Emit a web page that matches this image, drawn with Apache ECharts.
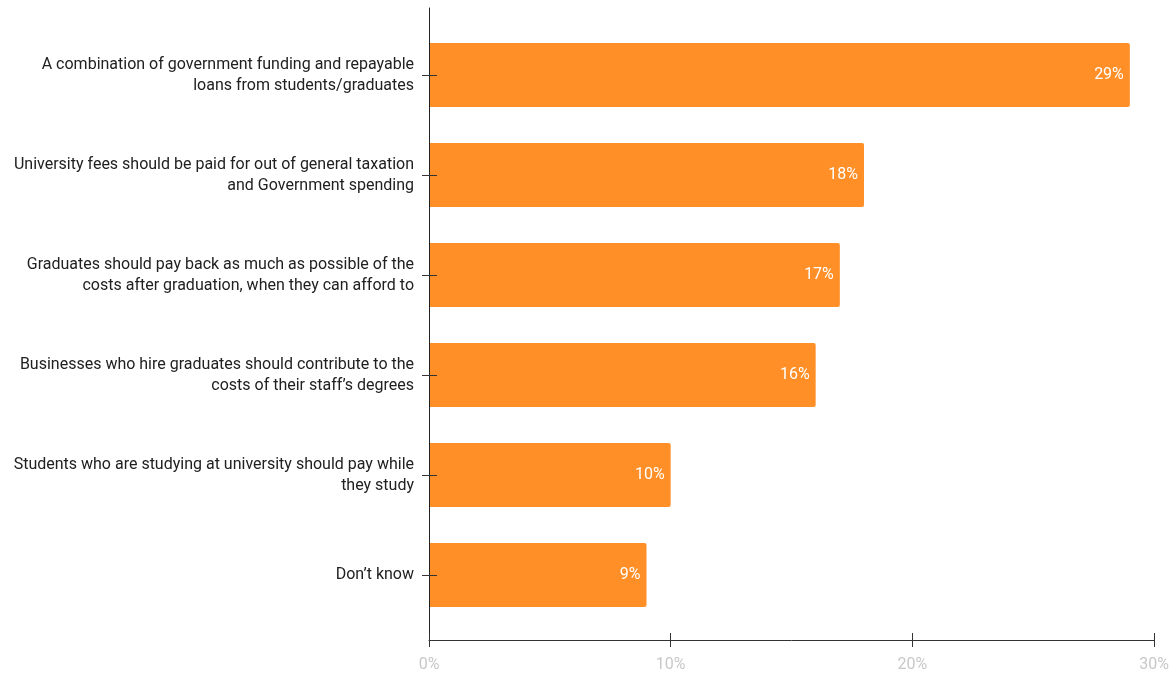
<!DOCTYPE html>
<html>
<head>
<meta charset="utf-8">
<script src="https://cdn.jsdelivr.net/npm/echarts@6/dist/echarts.min.js"></script>
<style>
html, body { margin: 0; padding: 0; background: #fff; }
#chart { width: 1176px; height: 673px; }
</style>
</head>
<body>
<div id="chart"></div>
<script>
// 类别（从上到下）
var categories = [
    'A combination of government funding and repayable\nloans from students/graduates',
    'University fees should be paid for out of general taxation\nand Government spending',
    'Graduates should pay back as much as possible of the\ncosts after graduation, when they can afford to',
    'Businesses who hire graduates should contribute to the\ncosts of their staff\u2019s degrees',
    'Students who are studying at university should pay while\nthey study',
    'Don\u2019t know'
];
var values = [29, 18, 17, 16, 10, 9];

var chart = echarts.init(document.getElementById('chart'));

// 网格尺寸
var gridW = 1176 - 429 - 22;
var gridH0 = 673 - 8 - 33;

var option = {
    animation: false,
    textStyle: { fontFamily: 'Roboto' },
    grid: [
        // 外框：坐标轴线
        { left: 429, right: 22, top: 8, bottom: 33 },
        // 柱子
        { left: 429, right: 22, top: 25, bottom: 48 }
    ],
    xAxis: [
        {
            gridIndex: 0, type: 'value', min: 0, max: 30, interval: 10, position: 'bottom', z: 10,
            axisLine: { show: true, lineStyle: { color: '#333', width: 1 } },
            axisTick: { show: true, length: 7, lineStyle: { color: '#333' } },
            axisLabel: {
                color: '#c8c8c8', fontSize: 16, margin: 17,
                formatter: function (v) { return v + '%'; }
            },
            splitLine: { show: false }
        },
        {
            // 放到底部，用来画向上的刻度
            gridIndex: 0, type: 'value', min: 0, max: 30, interval: 10,
            position: 'top', offset: -gridH0, z: 10,
            axisLine: { show: false },
            axisTick: { show: true, length: 7, lineStyle: { color: '#333' } },
            axisLabel: { show: false },
            splitLine: { show: false }
        },
        {
            gridIndex: 1, type: 'value', min: 0, max: 30, show: false
        }
    ],
    yAxis: [
        {
            gridIndex: 0, type: 'category', data: categories, inverse: true, z: 10,
            axisLine: { show: true, lineStyle: { color: '#222', width: 1 } },
            axisTick: { show: false },
            axisLabel: { show: false }
        },
        {
            gridIndex: 1, type: 'category', data: categories, inverse: true, position: 'left', z: 10,
            axisLine: { show: false },
            axisTick: { show: true, alignWithLabel: true, length: 7, lineStyle: { color: '#333' } },
            axisLabel: { color: '#212121', fontSize: 16, lineHeight: 21, margin: 15, align: 'right' }
        },
        {
            // 放到左侧，用来画向右的刻度
            gridIndex: 1, type: 'category', data: categories, inverse: true,
            position: 'right', offset: -gridW, z: 10,
            axisLine: { show: false },
            axisTick: { show: true, alignWithLabel: true, length: 8, lineStyle: { color: '#333' } },
            axisLabel: { show: false }
        }
    ],
    series: [{
        type: 'bar',
        xAxisIndex: 2,
        yAxisIndex: 1,
        z: 2,
        data: values,
        barWidth: 64,
        itemStyle: { color: '#ff8f26', borderRadius: [0, 2, 2, 0] },
        label: {
            show: true,
            position: 'insideRight',
            distance: 6,
            color: '#fff',
            fontSize: 16,
            formatter: function (p) { return p.value + '%'; }
        }
    }]
};

chart.setOption(option);
</script>
</body>
</html>
